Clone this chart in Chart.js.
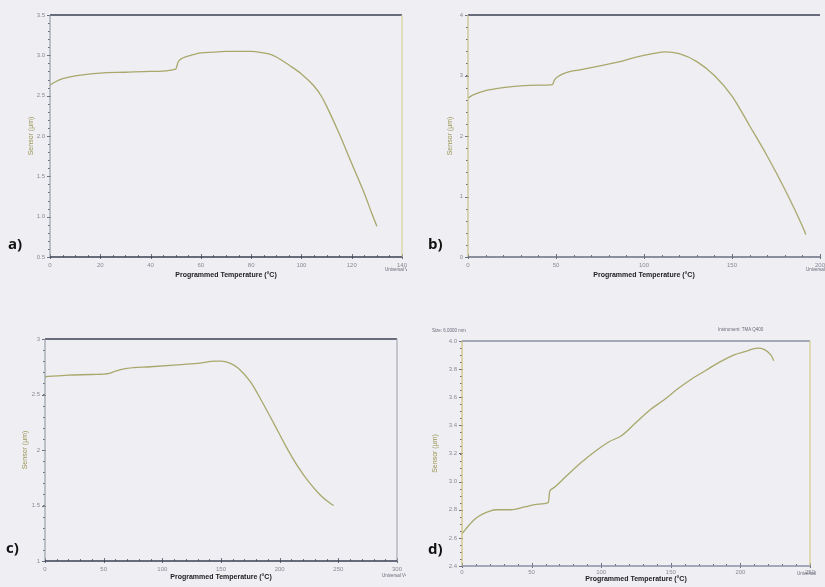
<!DOCTYPE html>
<html>
<head>
<title>Sensor vs Programmed Temperature</title>
<script src="https://cdn.jsdelivr.net/npm/chart.js@4"></script>
<style>
  body { margin: 0; width: 825px; height: 587px; overflow: hidden; background: #eeeef3; position: relative; font-family: "Liberation Sans", Arial, sans-serif; }
  canvas { position: absolute; }
  .tag { position: absolute; font: bold 15px "Open Sans", sans-serif; color: #111; line-height: 16px; }
  .note { position: absolute; font-size: 4.5px; color: #6a6a7a; white-space: nowrap; overflow: hidden; }
</style>
</head>
<body>
<canvas id="pa" width="420" height="290" style="left:0px;top:0px"></canvas>
<canvas id="pb" width="420" height="290" style="left:410px;top:0px"></canvas>
<canvas id="pc" width="410" height="292" style="left:0px;top:295px"></canvas>
<canvas id="pd" width="420" height="292" style="left:410px;top:295px"></canvas>

<div class="tag" style="left:8px;top:235px">a)</div>
<div class="tag" style="left:428px;top:235px">b)</div>
<div class="tag" style="left:6px;top:539px">c)</div>
<div class="tag" style="left:428px;top:540px">d)</div>

<div class="note" style="left:385px;top:267px;width:22px">Universal V4.5A</div>
<div class="note" style="left:806px;top:267px;width:22px">Universal V4.5A</div>
<div class="note" style="left:382px;top:573px;width:24px">Universal V4.5A</div>
<div class="note" style="left:797px;top:571px;width:20px">Universal V4.5A</div>
<div class="note" style="left:432px;top:328px;width:40px">Size: 6.0000 mm</div>
<div class="note" style="left:718px;top:327px;width:55px">Instrument: TMA Q400</div>

<script>
// a)
const tempA = [0, 2, 5, 10, 20, 30, 40, 50, 51, 53, 56, 60, 65, 70, 75, 80, 85, 88, 90, 95, 100, 105, 108, 110, 115, 120, 125, 128, 130];
const sensorA = [2.63, 2.67, 2.71, 2.745, 2.78, 2.79, 2.80, 2.83, 2.92, 2.97, 3.0, 3.03, 3.04, 3.05, 3.05, 3.05, 3.03, 3.01, 2.98, 2.88, 2.77, 2.62, 2.49, 2.37, 2.03, 1.66, 1.29, 1.04, 0.88];

// b)
const tempB = [0, 3, 10, 20, 30, 40, 48, 49, 51, 55, 65, 75, 85, 95, 105, 112, 120, 130, 140, 150, 160, 170, 180, 190, 192];
const sensorB = [2.63, 2.68, 2.75, 2.80, 2.83, 2.84, 2.85, 2.92, 2.98, 3.04, 3.10, 3.16, 3.22, 3.30, 3.36, 3.39, 3.36, 3.23, 3.0, 2.66, 2.17, 1.67, 1.12, 0.51, 0.37];

// c)
const tempC = [0, 20, 40, 55, 60, 70, 90, 110, 130, 145, 150, 158, 165, 175, 185, 195, 205, 215, 225, 235, 243, 246];
const sensorC = [2.66, 2.675, 2.68, 2.69, 2.71, 2.735, 2.75, 2.765, 2.78, 2.80, 2.80, 2.78, 2.735, 2.615, 2.435, 2.24, 2.04, 1.86, 1.71, 1.59, 1.52, 1.50];

// d)
const tempD = [0, 5, 10, 20, 25, 35, 45, 55, 62, 63, 65, 75, 85, 95, 105, 115, 125, 135, 145, 155, 165, 175, 185, 195, 205, 212, 217, 222, 224];
const sensorD = [2.63, 2.69, 2.74, 2.79, 2.80, 2.80, 2.82, 2.84, 2.85, 2.93, 2.95, 3.04, 3.13, 3.21, 3.28, 3.33, 3.42, 3.51, 3.58, 3.66, 3.73, 3.79, 3.85, 3.90, 3.93, 3.95, 3.94, 3.90, 3.86];

// axis ranges and tick steps
const xAxisA = [0, 140, 20], yAxisA = [0.5, 3.5, 0.5];
const xAxisB = [0, 200, 50], yAxisB = [0, 4, 1];
const xAxisC = [0, 300, 50], yAxisC = [1, 3, 0.5];
const xAxisD = [0, 250, 50], yAxisD = [2.4, 4.0, 0.2];

const xTitle = 'Programmed Temperature (°C)';
const yTitle = 'Sensor (µm)';

const framePlugin = {
  id: 'frame',
  afterDatasetsDraw(chart, args, o) {
    const { ctx, chartArea: a, scales: { x, y } } = chart;
    const line = (x1, y1, x2, y2, c, w) => {
      if (!c) return;
      ctx.strokeStyle = c; ctx.lineWidth = w;
      ctx.beginPath(); ctx.moveTo(x1, y1); ctx.lineTo(x2, y2); ctx.stroke();
    };
    ctx.save();
    // minor + major ticks
    ctx.strokeStyle = o.tickColor; ctx.lineWidth = 1;
    ctx.beginPath();
    for (let v = x.min; v <= x.max + 1e-9; v += o.minorX) {
      const px = Math.round(x.getPixelForValue(v)) + 0.5;
      ctx.moveTo(px, a.bottom); ctx.lineTo(px, a.bottom - 2);
    }
    for (let v = y.min; v <= y.max + 1e-9; v += o.minorY) {
      const py = Math.round(y.getPixelForValue(v)) + 0.5;
      ctx.moveTo(a.left, py); ctx.lineTo(a.left - 2, py);
    }
    x.ticks.forEach(t => {
      const px = Math.round(x.getPixelForValue(t.value)) + 0.5;
      ctx.moveTo(px, a.bottom + 2); ctx.lineTo(px, a.bottom - 3);
    });
    y.ticks.forEach(t => {
      const py = Math.round(y.getPixelForValue(t.value)) + 0.5;
      ctx.moveTo(a.left - 3, py); ctx.lineTo(a.left + 1, py);
    });
    ctx.stroke();
    // frame
    line(a.left, a.top, a.right, a.top, o.top, 1.5);
    line(a.right, a.top, a.right, a.bottom, o.right, 1.2);
    line(a.left, a.top, a.left, a.bottom, o.left, 1.2);
    line(a.left, a.bottom, a.right, a.bottom, o.bottom, 1.5);
    ctx.restore();
  }
};

function makePanel(id, temps, sensor, xr, yr, p) {
  const canvas = document.getElementById(id);
  const cx = parseInt(canvas.style.left), cy = parseInt(canvas.style.top);
  const pad = {
    left: p.plot[0] - cx - p.yW,
    top: p.plot[1] - cy,
    right: cx + canvas.width - p.plot[2],
    bottom: cy + canvas.height - p.plot[3] - p.xH
  };
  const pts = temps.map((t, i) => ({ x: t, y: sensor[i] }));
  return new Chart(canvas, {
    type: 'scatter',
    data: {
      datasets: [{
        data: pts,
        showLine: true,
        borderColor: '#a9a86c',
        borderWidth: 1.3,
        pointRadius: 0,
        cubicInterpolationMode: 'monotone'
      }]
    },
    options: {
      responsive: false,
      animation: false,
      layout: { padding: pad },
      plugins: {
        legend: { display: false },
        tooltip: { enabled: false },
        frame: p.frame
      },
      scales: {
        x: {
          type: 'linear', min: xr[0], max: xr[1],
          grid: { display: false, drawTicks: false },
          border: { display: false },
          ticks: { stepSize: xr[2], padding: p.xPad || 5, color: '#8a8a92', font: { size: 6, family: 'Liberation Sans' }, maxRotation: 0 },
          title: { display: true, text: xTitle, color: '#222', padding: 0, font: { size: 7, weight: 'bold', family: 'Liberation Sans' } },
          afterFit: s => { s.height = p.xH; }
        },
        y: {
          type: 'linear', min: yr[0], max: yr[1],
          grid: { display: false, drawTicks: false },
          border: { display: false },
          ticks: {
            stepSize: yr[2], padding: 5, color: '#8a8a92', font: { size: 6, family: 'Liberation Sans' },
            callback: v => p.dec == null ? v : v.toFixed(p.dec)
          },
          title: { display: true, text: yTitle, color: '#9a9450', padding: 0, font: { size: 7, family: 'Liberation Sans' } },
          afterFit: s => { s.width = p.yW; }
        }
      }
    },
    plugins: [framePlugin]
  });
}

makePanel('pa', tempA, sensorA, xAxisA, yAxisA, {
  plot: [50, 15, 402, 257], yW: 23, xH: 22, dec: 1,
  frame: { minorX: 5, minorY: 0.1, tickColor: '#6a6e80', top: '#3a3f55', right: '#d9d29a', left: '#9aa0a8', bottom: '#3a3f55' }
});
makePanel('pb', tempB, sensorB, xAxisB, yAxisB, {
  plot: [468, 15, 820, 257], yW: 22, xH: 22,
  frame: { minorX: 10, minorY: 0.2, tickColor: '#6a6e80', top: '#3a3f55', right: null, left: '#c9c08a', bottom: '#6a6e80' }
});
makePanel('pc', tempC, sensorC, xAxisC, yAxisC, {
  plot: [45, 339, 397, 561], yW: 24, xH: 20,
  frame: { minorX: 10, minorY: 0.1, tickColor: '#6a6e80', top: '#3a3f55', right: '#a8aab4', left: '#9aa0a8', bottom: '#3a3f55' }
});
makePanel('pd', tempD, sensorD, xAxisD, yAxisD, {
  plot: [462, 341, 810, 566], yW: 31, xH: 17, dec: 1, xPad: 3,
  frame: { minorX: 10, minorY: 0.05, tickColor: '#6a6e80', top: '#8a90a4', right: '#d5cc8a', left: '#cfc27a', bottom: '#8a90a4' }
});
</script>
</body>
</html>
